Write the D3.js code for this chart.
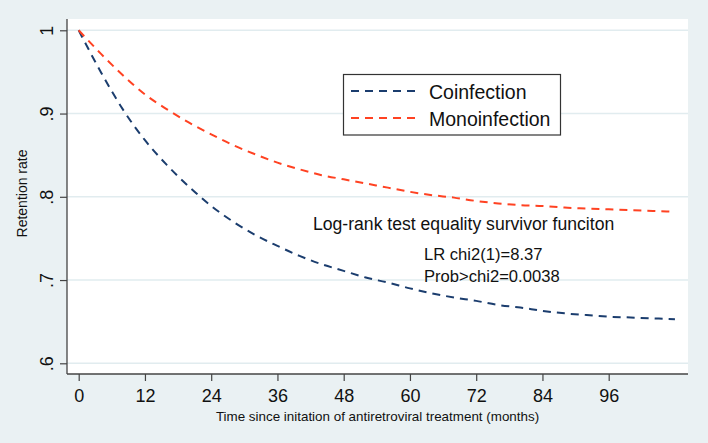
<!DOCTYPE html>
<html>
<head>
<meta charset="utf-8">
<script src="https://cdn.jsdelivr.net/npm/d3@7"></script>
<style>
  html, body { margin: 0; padding: 0; background: #eaf1f3; }
  svg { display: block; font-family: "Liberation Sans", Arial, sans-serif; }
</style>
</head>
<body>
<svg id="chart" width="708" height="443"></svg>
<script>
// ---- data ----
const months = [0, 4, 8, 12, 16, 20, 24, 28, 32, 36, 40, 44, 48, 52, 56, 60, 64, 68, 72, 76, 80, 84, 88, 92, 96, 100, 104, 108];
const coinfection = [1, 0.950, 0.905, 0.868, 0.838, 0.812, 0.789, 0.770, 0.754, 0.741, 0.729, 0.719, 0.711, 0.703, 0.697, 0.690, 0.684, 0.679, 0.675, 0.670, 0.667, 0.663, 0.660, 0.658, 0.656, 0.655, 0.654, 0.653];
const monoinfection = [1, 0.972, 0.946, 0.923, 0.905, 0.889, 0.875, 0.862, 0.851, 0.841, 0.833, 0.826, 0.821, 0.816, 0.811, 0.806, 0.802, 0.799, 0.795, 0.792, 0.790, 0.789, 0.787, 0.786, 0.785, 0.784, 0.783, 0.782];
const seriesNames = ["Coinfection", "Monoinfection"];
const xTicks = [0, 12, 24, 36, 48, 60, 72, 84, 96];
const yTicks = [0.6, 0.7, 0.8, 0.9, 1];
const yTickLabels = [".6", ".7", ".8", ".9", "1"];
const xTitle = "Time since initation of antiretroviral treatment (months)";
const yTitle = "Retention rate";
const noteTitle = "Log-rank test equality survivor funciton";
const noteLines = ["LR chi2(1)=8.37", "Prob>chi2=0.0038"];

const colors = ["#1b3d6e", "#ff4222"];

const svg = d3.select("#chart");
const plot = { left: 67, right: 688, top: 19, bottom: 374 };

const x = d3.scaleLinear().domain([0, 96]).range([78.7, 608.7]);
const y = d3.scaleLinear().domain([0.6, 1]).range([363.3, 30.3]);

// outer background
svg.append("rect").attr("x", 0).attr("y", 0).attr("width", 708).attr("height", 443).attr("fill", "#eaf1f3");
// plot region
svg.append("rect")
  .attr("x", plot.left).attr("y", plot.top)
  .attr("width", plot.right - plot.left).attr("height", plot.bottom - plot.top)
  .attr("fill", "#ffffff");

// grid lines
svg.append("g").selectAll("line").data(yTicks).join("line")
  .attr("x1", plot.left).attr("x2", plot.right)
  .attr("y1", d => y(d)).attr("y2", d => y(d))
  .attr("stroke", "#e1ecef").attr("stroke-width", 1.5);

// axes
const xAxis = d3.axisBottom(x).tickValues(xTicks).tickSize(7).tickPadding(8).tickFormat(d3.format("d"));
const gx = svg.append("g").attr("transform", `translate(0,${plot.bottom})`).call(xAxis);
gx.select(".domain").attr("d", `M${plot.left},0H${plot.right}`).attr("stroke", "#444").attr("stroke-width", 1.3);
gx.selectAll(".tick line").attr("stroke", "#444").attr("stroke-width", 1.2);
gx.selectAll(".tick text").attr("font-size", 18).attr("fill", "#111").attr("font-family", "Liberation Sans, Arial, sans-serif");

const yAxis = d3.axisLeft(y).tickValues(yTicks).tickSize(7).tickFormat((d, i) => yTickLabels[i]);
const gy = svg.append("g").attr("transform", `translate(${plot.left},0)`).call(yAxis);
gy.select(".domain").attr("d", `M0,${plot.top}V${plot.bottom}`).attr("stroke", "#444").attr("stroke-width", 1.3);
gy.selectAll(".tick line").attr("stroke", "#444").attr("stroke-width", 1.2);
gy.selectAll(".tick text")
  .attr("font-size", 18).attr("fill", "#111").attr("font-family", "Liberation Sans, Arial, sans-serif")
  .attr("x", null).attr("dy", null)
  .attr("text-anchor", "middle")
  .attr("transform", "translate(-14,0) rotate(-90)")
  .attr("y", 0);

// axis titles
svg.append("text")
  .attr("x", (plot.left + plot.right) / 2).attr("y", 421)
  .attr("text-anchor", "middle").attr("font-size", 13.4).attr("fill", "#111")
  .text(xTitle);
svg.append("text")
  .attr("transform", `translate(27,${(plot.top + plot.bottom) / 2 - 3}) rotate(-90)`)
  .attr("text-anchor", "middle").attr("font-size", 14).attr("fill", "#111")
  .text(yTitle);

// curves
const line = d3.line().x(d => x(d[0])).y(d => y(d[1])).curve(d3.curveMonotoneX);
const series = [coinfection, monoinfection];
series.forEach((vals, i) => {
  svg.append("path")
    .datum(months.map((m, j) => [m, vals[j]]))
    .attr("d", line)
    .attr("fill", "none")
    .attr("stroke", colors[i])
    .attr("stroke-width", 2)
    .attr("stroke-dasharray", "8,6");
});

// legend
const lg = svg.append("g");
lg.append("rect").attr("x", 343.5).attr("y", 74.5).attr("width", 217).attr("height", 60.5)
  .attr("fill", "#ffffff").attr("stroke", "#333").attr("stroke-width", 1.2);
seriesNames.forEach((name, i) => {
  const yy = 91 + i * 27;
  lg.append("line").attr("x1", 351).attr("x2", 418).attr("y1", yy).attr("y2", yy)
    .attr("stroke", colors[i]).attr("stroke-width", 2).attr("stroke-dasharray", "8,6");
  lg.append("text").attr("x", 429).attr("y", yy + 7.5)
    .attr("font-size", 19.5).attr("fill", "#111").text(name);
});

// annotation
svg.append("text").attr("x", 313).attr("y", 230).attr("font-size", 17.6).attr("fill", "#111").text(noteTitle);
noteLines.forEach((t, i) => {
  svg.append("text").attr("x", 424).attr("y", 260 + i * 21.5).attr("font-size", 16.6).attr("fill", "#111").text(t);
});
</script>
</body>
</html>
